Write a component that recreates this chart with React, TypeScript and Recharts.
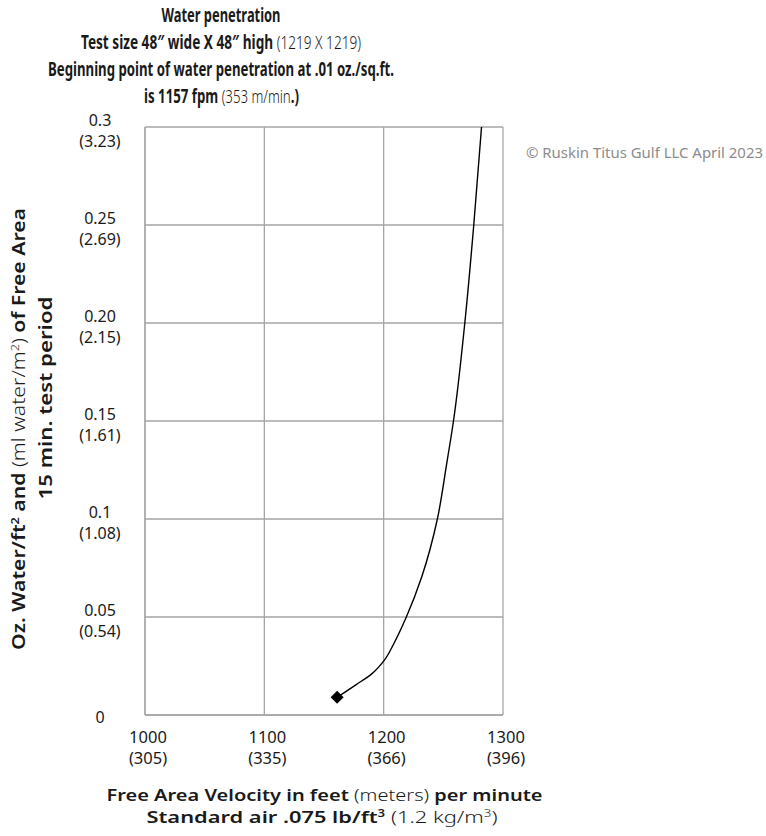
import { LineChart, Line, XAxis, YAxis, CartesianGrid } from 'recharts'

// water penetration (oz/sq.ft) and the velocity (fpm) at it
const water = [0.009, 0.0155, 0.021, 0.0275, 0.037, 0.05, 0.0707, 0.1, 0.127, 0.15, 0.2, 0.25, 0.3]
const velocity = [1161, 1177, 1190, 1200, 1209, 1219, 1232, 1245, 1252.5, 1258.5, 1268, 1275.5, 1282]

const xTicks = [1000, 1100, 1200, 1300]
const xTickMetric = ['(305)', '(335)', '(366)', '(396)']
const yTicks = [0, 0.05, 0.1, 0.15, 0.2, 0.25, 0.3]
const yTickLabels = ['0', '0.05', '0.1', '0.15', '0.20', '0.25', '0.3']
const yTickMetric = ['', '(0.54)', '(1.08)', '(1.61)', '(2.15)', '(2.69)', '(3.23)']

const data = water.map((w, i) => ({ w, v: velocity[i] }))

const FONT = "'Noto Sans', 'Open Sans', sans-serif"
const TITLE_FONT = "'Liberation Sans Narrow', 'Noto Sans', sans-serif"
const INK = '#1a1a1a'

function YTick(props: any) {
  const { x, y, payload } = props
  const i = yTicks.indexOf(payload.value)
  const cx = x - 45
  if (!yTickMetric[i]) {
    return (
      <text x={cx} y={y + 8} textAnchor="middle" fontSize={16} fill={INK} fontFamily={FONT}>
        {yTickLabels[i]}
      </text>
    )
  }
  return (
    <g>
      <text x={cx} y={y - 1.5} textAnchor="middle" fontSize={16} fill={INK} fontFamily={FONT}>
        {yTickLabels[i]}
      </text>
      <text x={cx} y={y + 19.5} textAnchor="middle" fontSize={16} fill={INK} fontFamily={FONT}>
        {yTickMetric[i]}
      </text>
    </g>
  )
}

function XTick(props: any) {
  const { x, y, payload } = props
  const i = xTicks.indexOf(payload.value)
  return (
    <g>
      <text x={x + 3} y={y + 28} textAnchor="middle" fontSize={16.5} fill={INK} fontFamily={FONT}>
        {payload.value}
      </text>
      <text x={x + 3} y={y + 49} textAnchor="middle" fontSize={16.5} fill={INK} fontFamily={FONT}>
        {xTickMetric[i]}
      </text>
    </g>
  )
}

function StartDot(props: any) {
  const { cx, cy, index } = props
  if (index !== 0) return <g key={`d${index}`} />
  const s = 6.5
  return (
    <path
      key="start"
      d={`M${cx},${cy - s} L${cx + s},${cy} L${cx},${cy + s} L${cx - s},${cy} Z`}
      fill="#000"
    />
  )
}

function Labels() {
  const light = { fontWeight: 300 }
  return (
    <svg
      width={766}
      height={836}
      style={{ position: 'absolute', left: 0, top: 0, pointerEvents: 'none' }}
    >
      <g fill={INK} fontFamily={TITLE_FONT} fontSize={19} fontWeight={700} textAnchor="middle">
        <text x={221} y={22} textLength={119} lengthAdjust="spacingAndGlyphs">Water penetration</text>
        <text x={221} y={49} textLength={280} lengthAdjust="spacingAndGlyphs">
          Test size 48″ wide X 48″ high <tspan style={light}>(1219 X 1219)</tspan>
        </text>
        <text x={221} y={76} textLength={346} lengthAdjust="spacingAndGlyphs">
          Beginning point of water penetration at .01 oz./sq.ft.
        </text>
        <text x={221.5} y={103} textLength={155} lengthAdjust="spacingAndGlyphs">
          is 1157 fpm <tspan style={light}>(353 m/min</tspan>.)
        </text>
      </g>

      <text x={526} y={158} fontSize={14.5} fill="#8c8c8c" fontFamily={FONT} textLength={237} lengthAdjust="spacingAndGlyphs">
        © Ruskin Titus Gulf LLC April 2023
      </text>

      <g fill={INK} fontFamily={FONT} fontSize={16.5} fontWeight={600} textAnchor="middle">
        <text x={324.5} y={801} textLength={436} lengthAdjust="spacingAndGlyphs">
          Free Area Velocity in feet <tspan style={light}>(meters)</tspan> per minute
        </text>
        <text x={322} y={823} textLength={351} lengthAdjust="spacingAndGlyphs">
          Standard air .075 lb/ft<tspan dy={-6} fontSize={10}>3</tspan>
          <tspan dy={6} style={light}> (1.2 kg/m</tspan>
          <tspan dy={-6} fontSize={10} style={light}>3</tspan>
          <tspan dy={6} style={light}>)</tspan>
        </text>
      </g>

      <g fill={INK} fontFamily={FONT} fontSize={17.5} fontWeight={600} textAnchor="middle">
        <text transform="translate(25,429) rotate(-90)" textLength={442} lengthAdjust="spacingAndGlyphs">
          Oz. Water/ft<tspan dy={-6} fontSize={10.5}>2</tspan>
          <tspan dy={6}> and </tspan>
          <tspan style={light}>(ml water/m</tspan>
          <tspan dy={-6} fontSize={10.5} style={light}>2</tspan>
          <tspan dy={6} style={light}>)</tspan> of Free Area
        </text>
        <text transform="translate(52,398) rotate(-90)" textLength={203} lengthAdjust="spacingAndGlyphs">
          15 min. test period
        </text>
      </g>
    </svg>
  )
}

export default function App() {
  return (
    <div style={{ position: 'absolute', left: 0, top: 0, width: 766, height: 836, background: '#fff' }}>
      <LineChart
        layout="vertical"
        width={766}
        height={836}
        data={data}
        margin={{ top: 127, right: 263, left: 85, bottom: 61 }}
      >
        <CartesianGrid stroke="#a6a6a6" strokeWidth={1.3} />
        <XAxis
          type="number"
          domain={[1000, 1300]}
          ticks={xTicks}
          height={60}
          tickLine={false}
          tickSize={0}
          tickMargin={0}
          axisLine={{ stroke: '#a6a6a6', strokeWidth: 1.3 }}
          tick={<XTick />}
          interval={0}
        />
        <YAxis
          dataKey="w"
          type="number"
          reversed
          domain={[0, 0.3]}
          ticks={yTicks}
          width={60}
          tickLine={false}
          tickSize={0}
          tickMargin={0}
          axisLine={{ stroke: '#a6a6a6', strokeWidth: 1.3 }}
          tick={<YTick />}
          interval={0}
        />
        <Line
          type="monotone"
          dataKey="v"
          stroke="#000"
          strokeWidth={1.4}
          dot={StartDot}
          activeDot={false}
          isAnimationActive={false}
        />
      </LineChart>
      <Labels />
    </div>
  )
}
